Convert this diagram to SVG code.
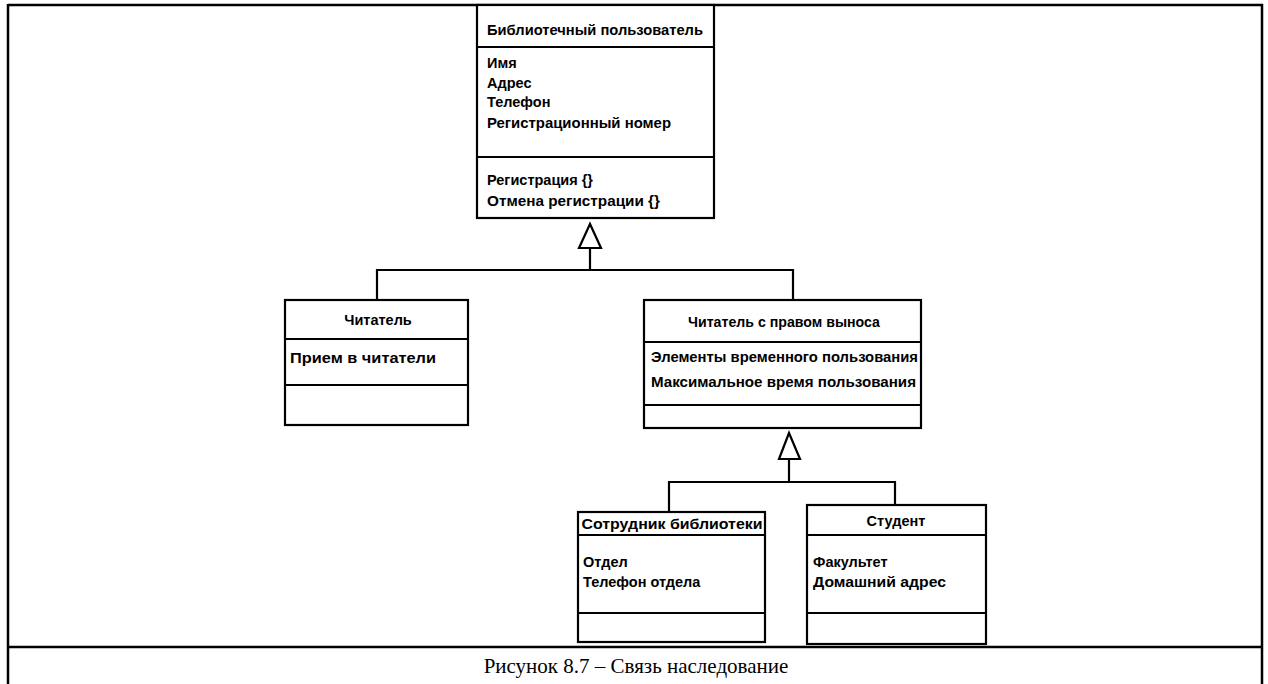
<svg xmlns="http://www.w3.org/2000/svg" width="1268" height="684" viewBox="0 0 1268 684">
<defs>
<style>
.frame{stroke:#000;stroke-width:2.5;fill:none}
.box{fill:#fff;stroke:#000;stroke-width:2.2}
.sep{stroke:#000;stroke-width:1.8}
.con{stroke:#000;stroke-width:2.2;fill:none}
.tri{fill:#fff;stroke:#000;stroke-width:2.2;stroke-linejoin:miter}
.t{font-family:"Liberation Sans",Arial,sans-serif;font-size:14.5px;fill:#000;font-weight:bold}
.c{text-anchor:middle}
.cap{font-family:"Liberation Serif","Times New Roman",serif;font-size:21px;fill:#000;text-anchor:middle}
</style>
</defs>
<rect width="1268" height="684" fill="#fff"/>
<g id="frame">
<line class="frame" x1="8" y1="5" x2="1263" y2="5"/>
<line class="frame" x1="8" y1="4" x2="8" y2="684"/>
<line class="frame" x1="1262" y1="4" x2="1262" y2="684"/>
<line class="frame" x1="8" y1="647" x2="1262" y2="647"/>
</g>
<g id="connectors">
<line class="con" x1="590" y1="248" x2="590" y2="270"/>
<polyline class="con" points="377,300 377,270 793,270 793,300"/>
<polygon class="tri" points="590,224 579,248 601,248"/>
<line class="con" x1="789" y1="459" x2="789" y2="482"/>
<polyline class="con" points="669,512 669,482 895,482 895,505"/>
<polygon class="tri" points="789,433 779,459 800,459"/>
</g>
<g id="node-library-user">
<rect class="box" x="477" y="5" width="237" height="213"/>
<line class="sep" x1="477" y1="47" x2="714" y2="47"/>
<line class="sep" x1="477" y1="157" x2="714" y2="157"/>
<text class="t" x="487" y="35" textLength="216" lengthAdjust="spacingAndGlyphs">Библиотечный пользователь</text>
<text class="t" x="487" y="68">Имя</text>
<text class="t" x="487" y="88">Адрес</text>
<text class="t" x="487" y="107">Телефон</text>
<text class="t" x="487" y="128" textLength="184" lengthAdjust="spacingAndGlyphs">Регистрационный номер</text>
<text class="t" x="487" y="185">Регистрация {}</text>
<text class="t" x="487" y="206" textLength="173" lengthAdjust="spacingAndGlyphs">Отмена регистрации {}</text>
</g>
<g id="node-reader">
<rect class="box" x="285" y="300" width="183" height="125"/>
<line class="sep" x1="285" y1="339" x2="468" y2="339"/>
<line class="sep" x1="285" y1="385" x2="468" y2="385"/>
<text class="t c" x="378" y="325">Читатель</text>
<text class="t" x="290" y="363" textLength="146" lengthAdjust="spacingAndGlyphs">Прием в читатели</text>
</g>
<g id="node-reader-borrow">
<rect class="box" x="644" y="300" width="277" height="128"/>
<line class="sep" x1="644" y1="342" x2="921" y2="342"/>
<line class="sep" x1="644" y1="405" x2="921" y2="405"/>
<text class="t c" x="784" y="327" textLength="192" lengthAdjust="spacingAndGlyphs">Читатель с правом выноса</text>
<text class="t" x="651" y="362" textLength="267" lengthAdjust="spacingAndGlyphs">Элементы временного пользования</text>
<text class="t" x="651" y="387" textLength="265" lengthAdjust="spacingAndGlyphs">Максимальное время пользования</text>
</g>
<g id="node-staff">
<rect class="box" x="578" y="512" width="187" height="130"/>
<line class="sep" x1="578" y1="535" x2="765" y2="535"/>
<line class="sep" x1="578" y1="613" x2="765" y2="613"/>
<text class="t c" x="672" y="529" textLength="181" lengthAdjust="spacingAndGlyphs">Сотрудник библиотеки</text>
<text class="t" x="583" y="567">Отдел</text>
<text class="t" x="583" y="587">Телефон отдела</text>
</g>
<g id="node-student">
<rect class="box" x="807" y="505" width="179" height="139"/>
<line class="sep" x1="807" y1="535" x2="986" y2="535"/>
<line class="sep" x1="807" y1="613" x2="986" y2="613"/>
<text class="t c" x="896" y="526">Студент</text>
<text class="t" x="813" y="567">Факультет</text>
<text class="t" x="813" y="587" textLength="133" lengthAdjust="spacingAndGlyphs">Домашний адрес</text>
</g>
<g id="caption">
<text class="cap" x="636" y="673">Рисунок 8.7 – Связь наследование</text>
</g>
</svg>
